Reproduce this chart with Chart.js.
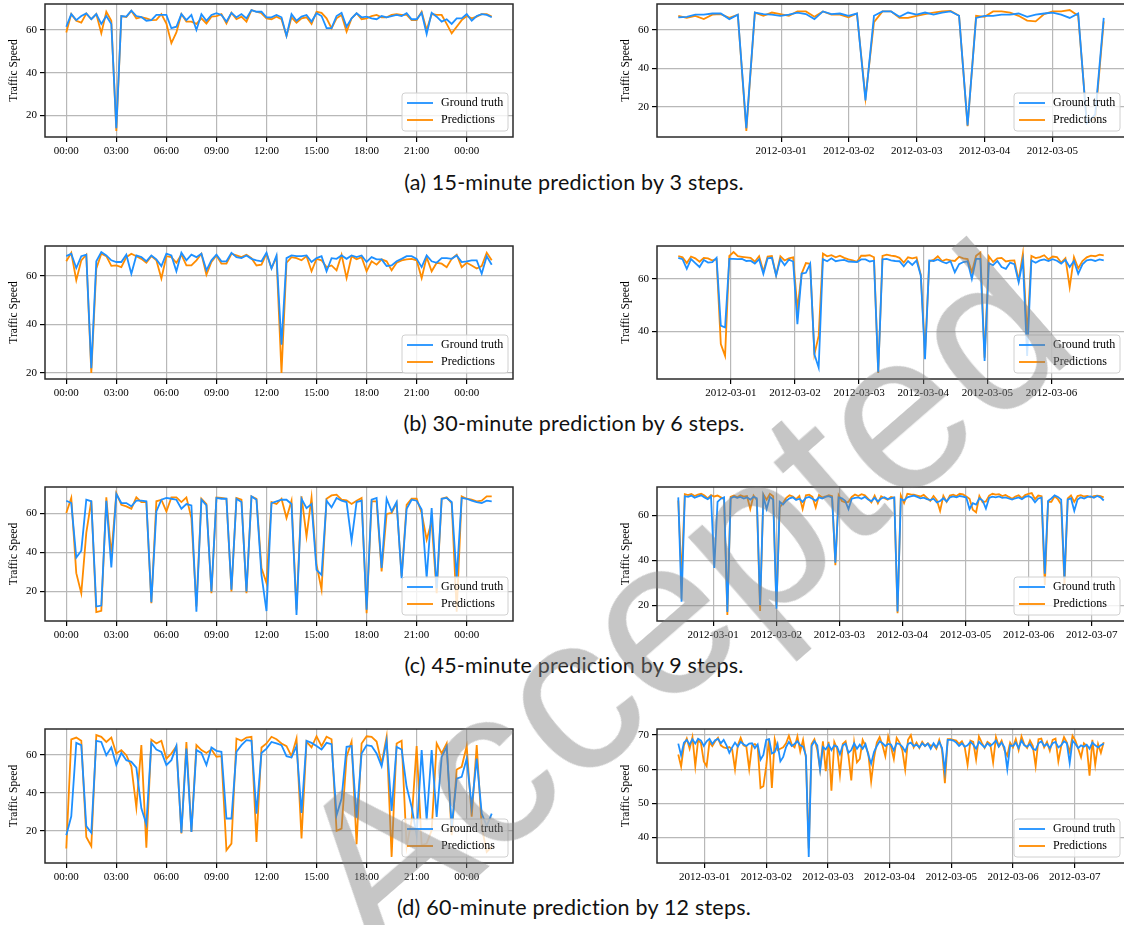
<!DOCTYPE html>
<html>
<head>
<meta charset="utf-8">
<script src="https://cdn.jsdelivr.net/npm/chart.js@4.4.1/dist/chart.umd.min.js"></script>
<style>
  html, body { margin: 0; padding: 0; background: #fff; }
  body { width: 1124px; height: 925px; position: relative; overflow: hidden; }
  canvas { position: absolute; }
  .cap { position: absolute; left: 0; width: 1148px; text-align: center; font: 21.5px Lato, "Open Sans", sans-serif; letter-spacing: 0.2px; line-height: 24px; color: #111; }
  #wm { position: absolute; left: 680px; top: 598px; transform: translate(-50%, -50%) rotate(-41deg);
        font: 225px "Liberation Sans", Arial, sans-serif; line-height: 1; color: rgba(129,129,129,0.45);
        white-space: nowrap; z-index: 5; pointer-events: none; }
</style>
</head>
<body>
<canvas id="aL"></canvas><canvas id="aR"></canvas>
<canvas id="bL"></canvas><canvas id="bR"></canvas>
<canvas id="cL"></canvas><canvas id="cR"></canvas>
<canvas id="dL"></canvas><canvas id="dR"></canvas>
<div class="cap" style="top:170px">(a) 15-minute prediction by 3 steps.</div>
<div class="cap" style="top:411px">(b) 30-minute prediction by 6 steps.</div>
<div class="cap" style="top:653px">(c) 45-minute prediction by 9 steps.</div>
<div class="cap" style="top:895px">(d) 60-minute prediction by 12 steps.</div>
<div id="wm">Accepted</div>
<script>
// ось времени: левые графики — часы от 00:00, правые — дни от 2012-03-01
const leftStepHours = 0.3;
const hourTicks = [0, 3, 6, 9, 12, 15, 18, 21, 24];
const hourLabels = ['00:00', '03:00', '06:00', '09:00', '12:00', '15:00', '18:00', '21:00', '00:00'];
const dayTicks = [0, 1, 2, 3, 4, 5, 6];
const dayLabels = ['2012-03-01', '2012-03-02', '2012-03-03', '2012-03-04', '2012-03-05', '2012-03-06', '2012-03-07'];
const rightFirstDay = [-1.517, -0.82, -0.553, -0.427];
const rightLastDay = [4.757, 5.815, 6.19, 6.47];

// (a) 15 минут
const aLeftTruth = [61.5, 67.4, 64.6, 66.5, 67.7, 65.0, 67.4, 62.8, 66.5, 62.8,
  14.0, 66.5, 66.2, 69.0, 66.5, 66.0, 64.3, 64.6, 67.0, 67.0,
  67.0, 60.8, 61.5, 67.4, 64.6, 67.0, 60.0, 67.4, 64.3, 67.0,
  67.8, 67.0, 63.9, 68.0, 65.9, 67.4, 65.4, 69.3, 68.5, 68.5,
  65.9, 65.9, 67.0, 65.9, 57.2, 67.4, 64.3, 66.2, 67.0, 63.9,
  67.8, 66.5, 60.8, 60.8, 66.5, 68.0, 61.5, 65.4, 67.8, 65.9,
  66.2, 65.4, 65.0, 66.5, 65.9, 66.5, 67.0, 66.5, 67.8, 65.0,
  65.0, 68.0, 58.1, 68.0, 66.2, 63.9, 65.0, 62.8, 65.4, 65.4,
  67.4, 64.3, 66.5, 67.4, 67.0, 65.9];
const aLeftPred = [58.8, 67.4, 64.3, 63.4, 67.7, 65.0, 67.4, 58.4, 68.5, 64.3,
  12.7, 66.5, 66.0, 69.0, 65.4, 66.0, 65.4, 64.6, 64.7, 67.4,
  63.0, 53.8, 58.8, 67.4, 63.9, 63.9, 62.8, 65.4, 63.0, 66.2,
  66.5, 67.4, 63.0, 68.0, 65.0, 66.2, 63.9, 69.3, 68.5, 67.8,
  65.4, 65.0, 66.2, 65.0, 57.2, 65.9, 63.4, 65.4, 65.9, 62.8,
  68.5, 68.0, 65.4, 60.8, 65.4, 67.0, 59.2, 65.4, 67.8, 65.0,
  65.4, 66.5, 67.0, 65.9, 65.9, 67.0, 67.4, 67.0, 67.0, 64.6,
  64.6, 68.5, 60.0, 67.4, 67.0, 67.0, 62.8, 58.4, 61.5, 64.6,
  66.5, 65.4, 66.2, 67.4, 67.4, 66.2];
const aRightTruth = [66.5, 66.8, 67.9, 67.9, 68.5, 68.5, 65.6, 67.9, 9.0, 69.0,
  68.2, 67.9, 67.3, 67.9, 69.0, 68.2, 65.6, 69.6, 68.2, 68.5,
  67.3, 68.5, 23.4, 67.3, 69.6, 69.6, 66.8, 69.0, 67.9, 69.0,
  67.9, 69.0, 69.6, 67.3, 10.4, 66.2, 67.3, 67.3, 67.9, 67.9,
  68.5, 66.8, 67.9, 68.5, 69.0, 67.9, 66.2, 68.5, 11.5, 16.0,
  66.2];
const aRightPred = [67.3, 66.2, 67.3, 65.6, 67.9, 68.2, 66.2, 67.9, 7.5, 69.0,
  67.3, 69.0, 68.2, 67.3, 69.6, 69.6, 66.8, 69.6, 67.9, 67.9,
  66.5, 68.5, 24.6, 64.0, 69.6, 69.6, 66.2, 66.2, 67.3, 68.2,
  69.0, 69.6, 69.9, 67.3, 10.0, 67.3, 66.8, 69.6, 69.6, 69.0,
  67.3, 64.8, 64.4, 68.2, 69.6, 69.6, 70.3, 67.3, 12.6, 13.8,
  64.4];

// (b) 30 минут
const bLeftTruth = [68.0, 69.0, 63.1, 68.0, 68.6, 22.0, 65.9, 69.7, 68.3, 66.3,
  65.6, 65.6, 68.6, 60.8, 68.3, 67.6, 65.9, 68.3, 66.7, 63.9,
  69.0, 68.3, 61.8, 69.4, 66.3, 68.6, 67.6, 69.0, 62.2, 66.3,
  68.6, 65.9, 65.9, 69.4, 67.6, 67.2, 68.3, 66.9, 66.3, 65.9,
  69.4, 62.9, 68.3, 31.6, 67.2, 68.3, 68.0, 68.0, 68.3, 65.6,
  67.2, 68.0, 61.8, 67.2, 66.9, 68.3, 66.9, 68.3, 67.6, 68.3,
  65.6, 67.6, 66.7, 66.7, 63.9, 64.2, 65.9, 66.9, 68.0, 68.0,
  66.9, 63.5, 68.3, 65.9, 65.3, 67.2, 67.2, 66.9, 68.3, 65.6,
  65.9, 66.3, 66.3, 60.8, 68.0, 64.5];
const bLeftPred = [65.9, 69.4, 58.1, 66.3, 68.6, 20.0, 62.9, 69.0, 68.0, 64.0,
  64.2, 63.5, 67.6, 69.0, 68.0, 66.9, 65.3, 68.0, 66.3, 58.8,
  68.0, 67.6, 65.3, 68.6, 64.2, 64.2, 66.3, 69.0, 60.4, 65.6,
  68.3, 64.9, 64.9, 69.0, 68.3, 67.6, 68.6, 67.2, 64.2, 64.5,
  69.0, 63.1, 67.6, 20.0, 65.3, 67.6, 67.2, 66.3, 68.0, 61.8,
  66.9, 66.3, 63.5, 64.2, 62.2, 68.6, 59.0, 68.0, 66.7, 67.6,
  61.8, 65.9, 64.5, 66.7, 65.9, 62.2, 65.3, 66.3, 66.7, 66.9,
  66.3, 59.0, 67.6, 61.8, 65.3, 64.9, 63.5, 66.9, 68.6, 63.5,
  65.3, 64.2, 62.9, 63.9, 69.4, 66.3];
const bRightTruth = [68.0, 67.5, 63.8, 67.5, 66.0, 64.5, 67.2, 66.2, 66.4, 68.0,
  42.2, 41.5, 67.6, 67.6, 67.5, 67.6, 66.8, 66.9, 65.8, 67.5,
  61.9, 67.8, 68.0, 61.3, 67.5, 65.2, 67.3, 66.6, 42.8, 62.0,
  62.3, 65.7, 31.3, 26.2, 67.5, 66.7, 67.8, 66.7, 67.0, 67.2,
  66.6, 66.5, 66.4, 67.4, 67.4, 66.6, 66.9, 24.5, 67.4, 67.6,
  67.0, 66.8, 66.7, 64.8, 66.8, 65.3, 67.0, 61.3, 29.4, 67.0,
  66.8, 67.4, 66.5, 65.9, 66.7, 62.5, 65.6, 66.4, 66.7, 60.0,
  67.6, 67.6, 28.8, 66.0, 65.2, 66.8, 64.5, 63.8, 66.2, 65.6,
  58.7, 67.0, 30.7, 67.0, 66.1, 67.0, 67.4, 66.8, 67.5, 66.9,
  65.8, 67.2, 64.5, 66.8, 61.9, 65.5, 67.0, 67.3, 66.8, 67.4,
  67.0];
const bRightPred = [68.7, 68.2, 66.0, 68.5, 67.8, 66.5, 68.0, 67.8, 67.0, 67.5,
  35.2, 30.7, 68.7, 70.2, 68.6, 68.4, 68.2, 68.0, 66.5, 68.6,
  62.8, 68.5, 68.7, 61.3, 68.6, 67.0, 67.8, 68.2, 48.5, 62.0,
  66.0, 65.7, 31.3, 38.3, 69.6, 68.6, 69.0, 68.2, 68.8, 68.0,
  67.4, 67.0, 66.5, 68.8, 68.8, 69.0, 68.2, 24.2, 68.7, 69.2,
  68.8, 68.6, 68.0, 66.2, 68.2, 67.8, 68.2, 61.5, 32.0, 66.6,
  67.2, 68.6, 66.8, 67.4, 67.0, 66.8, 68.4, 67.8, 67.5, 62.5,
  68.8, 70.0, 30.0, 68.6, 66.4, 67.8, 68.0, 66.6, 66.9, 67.0,
  59.4, 69.6, 38.3, 68.7, 67.9, 68.3, 69.0, 67.4, 68.5, 68.3,
  66.2, 67.9, 56.8, 68.3, 64.0, 66.8, 68.2, 68.8, 68.6, 69.2,
  68.9];

// (c) 45 минут
const cLeftTruth = [66.5, 65.3, 37.4, 40.9, 67.0, 66.2, 12.3, 12.8, 66.5, 32.3,
  69.9, 65.3, 65.3, 63.6, 66.5, 66.5, 66.2, 14.5, 61.0, 67.0,
  67.9, 67.5, 67.0, 62.4, 64.8, 64.1, 9.7, 67.0, 64.1, 20.0,
  67.9, 67.5, 67.5, 20.9, 67.5, 65.8, 20.0, 68.7, 67.0, 28.5,
  10.0, 65.3, 66.2, 67.0, 67.0, 64.8, 8.0, 67.5, 62.7, 64.8,
  31.1, 28.5, 66.5, 63.1, 67.9, 66.5, 65.8, 46.0, 65.8, 66.5,
  10.6, 67.0, 67.9, 32.0, 67.5, 61.0, 65.8, 26.8, 62.4, 67.0,
  66.5, 62.0, 26.8, 62.7, 21.7, 67.5, 67.9, 65.8, 26.8, 67.9,
  67.5, 66.5, 65.8, 65.3, 66.5, 66.2];
const cLeftPred = [60.2, 67.9, 29.4, 19.1, 50.0, 66.5, 9.4, 10.1, 68.2, 38.5,
  70.4, 64.4, 63.6, 62.4, 68.2, 65.8, 65.8, 14.0, 66.2, 67.0,
  61.0, 68.2, 68.2, 65.8, 68.2, 57.6, 12.3, 67.5, 64.8, 19.1,
  68.2, 67.9, 67.5, 20.0, 67.9, 67.0, 19.1, 68.7, 67.5, 32.0,
  24.3, 65.8, 64.8, 67.5, 57.6, 66.5, 10.6, 68.7, 48.2, 68.2,
  33.7, 20.9, 67.5, 69.2, 69.6, 67.0, 66.7, 64.8, 66.5, 67.9,
  8.9, 66.2, 66.2, 30.3, 59.7, 60.2, 65.3, 27.7, 64.4, 67.5,
  67.5, 60.2, 46.5, 55.9, 19.1, 67.5, 68.2, 65.3, 9.7, 68.7,
  67.5, 67.0, 66.2, 66.5, 68.7, 68.7];
const cRightTruth = [68.0, 21.6, 68.5, 68.2, 68.8, 67.8, 68.4, 68.9, 68.0, 67.2,
  68.4, 36.6, 66.0, 67.4, 68.0, 17.0, 67.6, 68.3, 67.8, 68.2,
  67.5, 68.0, 67.0, 68.2, 67.6, 20.0, 68.4, 62.8, 68.2, 67.0,
  18.4, 66.0, 64.8, 66.5, 67.6, 68.0, 66.8, 67.4, 66.0, 67.8,
  68.2, 67.4, 66.5, 68.0, 67.5, 68.2, 68.5, 67.9, 38.9, 68.0,
  67.6, 66.5, 62.8, 67.4, 67.8, 68.0, 67.4, 68.2, 67.0, 66.3,
  67.8, 66.2, 67.5, 68.1, 67.3, 67.6, 68.0, 17.2, 67.2, 66.6,
  68.0, 68.4, 68.8, 68.2, 67.6, 67.9, 67.2, 66.8, 67.4, 65.8,
  66.4, 67.6, 66.2, 68.0, 68.4, 68.0, 68.6, 68.3, 67.9, 62.8,
  65.4, 64.8, 67.6, 66.6, 63.0, 67.8, 68.3, 68.0, 68.4, 67.8,
  68.0, 67.5, 67.0, 67.6, 68.0, 67.2, 68.2, 68.6, 67.8, 65.8,
  67.5, 67.9, 34.0, 66.4, 67.5, 68.9, 68.2, 67.0, 32.0, 67.0,
  67.6, 62.0, 67.0, 68.0, 67.5, 68.2, 68.4, 67.8, 68.6, 68.0,
  66.6];
const cRightPred = [66.6, 32.0, 69.4, 69.0, 69.5, 68.6, 69.2, 69.6, 68.8, 67.5,
  69.0, 68.4, 68.8, 68.0, 67.2, 15.7, 68.2, 68.8, 68.0, 68.9,
  68.3, 68.6, 62.8, 68.8, 66.8, 17.5, 69.4, 67.0, 69.6, 68.5,
  19.4, 63.5, 65.5, 67.8, 68.9, 68.4, 67.2, 68.6, 62.8, 68.9,
  69.2, 68.2, 63.5, 69.0, 67.9, 68.4, 69.0, 68.5, 37.8, 69.0,
  66.4, 65.8, 66.0, 68.2, 69.3, 68.6, 69.4, 68.9, 67.4, 65.8,
  68.8, 65.4, 68.5, 67.6, 67.0, 68.2, 67.8, 16.4, 68.9, 65.5,
  69.6, 69.3, 69.2, 68.8, 68.4, 69.1, 67.8, 66.4, 68.6, 66.8,
  62.0, 68.7, 66.0, 68.8, 69.2, 68.6, 69.6, 69.3, 68.4, 67.4,
  62.5, 61.3, 68.6, 65.8, 66.2, 68.8, 69.6, 69.2, 69.4, 68.6,
  69.1, 68.2, 67.4, 68.4, 68.9, 67.6, 69.0, 69.6, 69.9, 67.2,
  68.8, 68.5, 29.0, 66.0, 66.0, 68.5, 67.2, 64.8, 29.1, 67.5,
  68.8, 66.0, 68.6, 69.0, 68.4, 68.6, 68.0, 68.6, 68.8, 68.5,
  68.0];

// (d) 60 минут
const dLeftTruth = [17.7, 27.7, 66.3, 65.1, 22.5, 19.0, 67.4, 66.8, 59.8, 63.9,
  54.6, 61.0, 57.2, 56.3, 53.3, 31.9, 23.5, 66.3, 62.8, 61.6,
  54.6, 57.2, 64.6, 19.0, 63.3, 19.5, 62.5, 61.0, 54.6, 63.9,
  62.1, 61.6, 26.5, 26.5, 61.6, 65.1, 67.7, 67.4, 29.1, 61.0,
  63.3, 66.8, 66.0, 65.1, 59.3, 58.6, 64.6, 29.5, 67.4, 66.3,
  64.6, 62.8, 66.3, 65.6, 28.2, 37.0, 64.2, 64.6, 27.0, 60.7,
  65.1, 64.6, 60.7, 54.0, 67.4, 30.5, 64.2, 62.8, 43.2, 32.6,
  17.7, 62.5, 25.6, 62.5, 27.4, 58.9, 64.2, 22.1, 47.5, 48.4,
  58.0, 32.6, 58.0, 29.1, 22.5, 29.1];
const dLeftPred = [10.7, 68.1, 69.1, 67.4, 16.8, 11.9, 70.4, 69.5, 66.8, 69.1,
  60.7, 62.5, 59.8, 54.0, 32.3, 65.1, 11.2, 68.0, 66.0, 67.4,
  58.0, 60.7, 64.6, 18.6, 66.8, 19.5, 65.1, 62.5, 61.0, 62.8,
  59.0, 59.3, 9.8, 13.3, 68.6, 67.4, 69.1, 69.5, 14.2, 63.9,
  66.0, 69.5, 68.2, 66.0, 64.6, 59.3, 68.6, 16.0, 67.0, 63.9,
  69.8, 64.6, 69.5, 68.2, 20.0, 21.2, 59.0, 67.0, 13.0, 66.0,
  69.8, 69.5, 67.0, 55.4, 69.5, 6.3, 66.0, 67.4, 11.6, 25.6,
  64.6, 12.5, 13.3, 20.3, 66.0, 60.7, 66.0, 17.7, 52.3, 53.7,
  64.6, 27.4, 65.1, 22.1, 8.9, 11.6];
const dRightTruth = [67.5, 64.0, 67.8, 68.6, 67.2, 68.8, 67.5, 68.9, 68.4, 66.8,
  68.2, 68.9, 67.4, 68.5, 68.9, 67.6, 68.6, 67.0, 64.8, 66.4,
  67.8, 66.6, 68.0, 67.3, 66.8, 67.5, 67.6, 66.2, 67.3, 62.8,
  64.2, 68.6, 68.8, 64.6, 65.0, 67.4, 62.3, 63.6, 66.5, 68.0,
  66.8, 67.4, 68.2, 67.0, 66.6, 64.0, 34.3, 66.8, 68.2, 67.0,
  59.9, 66.5, 65.8, 67.2, 65.6, 67.0, 66.6, 64.4, 67.0, 67.5,
  64.8, 65.6, 67.6, 66.0, 67.2, 66.0, 67.4, 64.2, 61.6, 65.0,
  66.8, 68.2, 67.6, 66.8, 67.4, 67.2, 65.5, 67.6, 67.4, 66.6,
  65.2, 67.4, 67.8, 66.8, 67.2, 66.4, 67.6, 66.8, 67.5, 66.0,
  67.6, 66.4, 68.0, 66.2, 59.4, 68.6, 68.6, 68.4, 67.8, 66.8,
  67.6, 66.6, 67.0, 68.0, 67.2, 66.0, 68.0, 67.2, 66.4, 67.6,
  66.8, 67.5, 68.4, 66.6, 67.8, 66.4, 60.0, 67.0, 66.8, 67.8,
  66.2, 68.4, 67.0, 66.6, 67.4, 66.0, 65.6, 67.6, 68.2, 66.8,
  67.4, 66.2, 67.6, 68.0, 66.4, 67.0, 68.2, 67.6, 61.8, 68.4,
  67.4, 66.2, 67.0, 66.6, 67.2, 66.0, 67.8, 67.0, 66.4, 67.0,
  67.5];
const dRightPred = [64.3, 60.8, 67.0, 69.0, 66.0, 69.4, 60.9, 68.6, 67.6, 62.3,
  60.9, 68.0, 66.8, 68.2, 69.2, 67.0, 66.4, 66.2, 66.5, 65.8,
  60.0, 67.0, 69.2, 67.0, 66.6, 60.0, 67.0, 67.4, 66.6, 54.5,
  55.0, 60.9, 69.0, 54.5, 68.8, 65.6, 66.0, 66.4, 67.6, 69.8,
  67.2, 66.4, 69.6, 65.2, 68.6, 63.4, 36.8, 67.4, 68.8, 65.8,
  59.9, 68.2, 59.4, 68.0, 53.7, 68.0, 66.0, 58.4, 67.4, 68.2,
  64.0, 56.7, 67.8, 62.0, 63.0, 68.6, 66.8, 64.6, 56.4, 63.2,
  67.8, 69.4, 67.0, 63.8, 69.6, 66.6, 63.0, 69.2, 67.8, 65.6,
  59.9, 68.6, 70.0, 66.4, 67.8, 66.2, 68.0, 66.8, 67.6, 66.8,
  67.2, 66.0, 68.6, 65.6, 55.9, 68.8, 68.8, 68.6, 68.4, 67.4,
  68.2, 66.4, 61.3, 68.4, 68.0, 62.8, 69.6, 67.8, 66.2, 68.0,
  67.4, 62.0, 69.4, 66.8, 68.4, 65.6, 64.0, 67.8, 66.4, 68.8,
  65.6, 69.6, 67.2, 66.2, 68.4, 66.8, 60.9, 68.8, 69.0, 66.4,
  68.0, 65.4, 68.6, 69.0, 62.3, 66.8, 69.4, 67.8, 65.0, 69.8,
  68.4, 66.0, 63.5, 67.6, 66.8, 58.1, 68.6, 61.3, 67.4, 64.8,
  67.9];

const yTicksLeft = [20, 40, 60];
const yTicksRight = [[20, 40, 60], [40, 60], [20, 40, 60], [40, 50, 60, 70]];

const truthColor = '#1e90ff';
const predColor = '#ff8c00';
const serif = '"Liberation Serif", "Times New Roman", serif';

// рамка осей и легенда внутри графика (как у matplotlib)
const frameAndKey = {
  id: 'frameAndKey',
  afterDatasetsDraw(chart) {
    const { ctx, chartArea: a } = chart;
    ctx.save();
    ctx.strokeStyle = '#2a2a2a';
    ctx.lineWidth = 1.5;
    ctx.strokeRect(a.left, a.top, a.right - a.left, a.bottom - a.top);

    const w = 106, h = 38, r = 3;
    const x0 = a.right - 5 - w, y0 = a.bottom - 6 - h;
    ctx.beginPath();
    ctx.moveTo(x0 + r, y0);
    ctx.arcTo(x0 + w, y0, x0 + w, y0 + h, r);
    ctx.arcTo(x0 + w, y0 + h, x0, y0 + h, r);
    ctx.arcTo(x0, y0 + h, x0, y0, r);
    ctx.arcTo(x0, y0, x0 + w, y0, r);
    ctx.closePath();
    ctx.fillStyle = 'rgba(255,255,255,0.8)';
    ctx.fill();
    ctx.strokeStyle = '#d0d0d0';
    ctx.lineWidth = 1;
    ctx.stroke();

    ctx.font = '12px ' + serif;
    ctx.textBaseline = 'middle';
    chart.data.datasets.forEach((ds, k) => {
      const yy = y0 + 10 + k * 17;
      ctx.strokeStyle = ds.borderColor;
      ctx.lineWidth = 1.8;
      ctx.beginPath();
      ctx.moveTo(x0 + 5, yy);
      ctx.lineTo(x0 + 31, yy);
      ctx.stroke();
      ctx.fillStyle = '#000';
      ctx.fillText(ds.label, x0 + 39, yy);
    });
    ctx.restore();
  }
};

function padRange(arrs) {
  const all = [].concat(...arrs);
  const lo = Math.min(...all), hi = Math.max(...all);
  const m = (hi - lo) * 0.05;
  return [lo - m, hi + m];
}

function drawPanel(id, left, top, bottom, xs, truth, pred, xTicks, xLabels, yTicks) {
  const el = document.getElementById(id);
  el.width = 520;
  el.height = (bottom - top) + 4 + 30;
  el.style.left = left + 'px';
  el.style.top = (top - 4) + 'px';
  const [xmin, xmax] = padRange([xs]);
  const [ymin, ymax] = padRange([truth, pred]);
  const tickFont = { family: serif, size: 11 };
  const grid = { color: '#b8b8b8', lineWidth: 1.2, tickColor: '#000', tickLength: 5, tickWidth: 1.2 };

  new Chart(el, {
    type: 'line',
    data: {
      datasets: [
        { label: 'Ground truth', data: xs.map((x, i) => ({ x: x, y: truth[i] })), borderColor: truthColor, borderWidth: 1.8, pointRadius: 0, tension: 0 },
        { label: 'Predictions', data: xs.map((x, i) => ({ x: x, y: pred[i] })), borderColor: predColor, borderWidth: 1.8, pointRadius: 0, tension: 0 }
      ]
    },
    options: {
      responsive: false,
      animation: false,
      devicePixelRatio: 1,
      layout: { padding: { top: 4, right: 7, bottom: 0, left: 0 } },
      plugins: { legend: { display: false }, tooltip: { enabled: false } },
      scales: {
        x: {
          type: 'linear', min: xmin, max: xmax,
          afterBuildTicks: s => { s.ticks = xTicks.map(v => ({ value: v })); },
          afterFit: s => { s.height = 30; s.paddingLeft = 0; s.paddingRight = 0; },
          ticks: { font: tickFont, color: '#000', padding: 3, maxRotation: 0, autoSkip: false,
                   callback: v => xLabels[xTicks.indexOf(v)] },
          grid: grid,
          border: { display: false }
        },
        y: {
          min: ymin, max: ymax,
          afterBuildTicks: s => { s.ticks = yTicks.map(v => ({ value: v })); },
          afterFit: s => { s.width = 45; s.paddingTop = 0; s.paddingBottom = 0; },
          ticks: { font: tickFont, color: '#000', padding: 3 },
          grid: grid,
          border: { display: false },
          title: { display: true, text: 'Traffic Speed', color: '#000', font: { family: serif, size: 11.5 }, padding: { top: 7, bottom: 0 } }
        }
      }
    },
    plugins: [frameAndKey]
  });
}

const rowTop = [4, 246, 487, 729];
const rowBottom = [137, 379, 621, 863];
const leftSets = [[aLeftTruth, aLeftPred], [bLeftTruth, bLeftPred], [cLeftTruth, cLeftPred], [dLeftTruth, dLeftPred]];
const rightSets = [[aRightTruth, aRightPred], [bRightTruth, bRightPred], [cRightTruth, cRightPred], [dRightTruth, dRightPred]];
const rowIds = ['a', 'b', 'c', 'd'];

rowIds.forEach((r, k) => {
  const [lt, lp] = leftSets[k];
  const hours = lt.map((_, i) => i * leftStepHours);
  drawPanel(r + 'L', 0, rowTop[k], rowBottom[k], hours, lt, lp, hourTicks, hourLabels, yTicksLeft);

  const [rt, rp] = rightSets[k];
  const step = (rightLastDay[k] - rightFirstDay[k]) / (rt.length - 1);
  const days = rt.map((_, i) => rightFirstDay[k] + i * step);
  const lastTick = [4, 5, 6, 6][k];
  const dt = dayTicks.filter(d => d <= lastTick);
  drawPanel(r + 'R', 612, rowTop[k], rowBottom[k], days, rt, rp, dt, dayLabels, yTicksRight[k]);
});
</script>
</body>
</html>
